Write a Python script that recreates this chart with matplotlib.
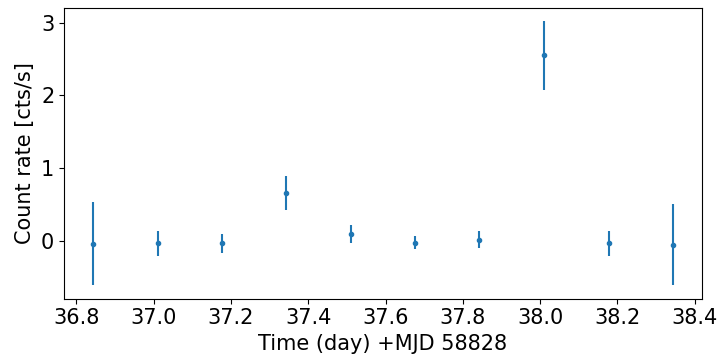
import matplotlib
matplotlib.use("Agg")
import matplotlib.pyplot as plt

time = [36.843, 37.010, 37.177, 37.343, 37.510, 37.677, 37.843, 38.010, 38.177, 38.343]
rate = [-0.04, -0.03, -0.03, 0.66, 0.10, -0.02, 0.02, 2.55, -0.03, -0.05]
rate_err = [0.57, 0.175, 0.13, 0.24, 0.125, 0.085, 0.115, 0.47, 0.175, 0.56]

fig = plt.figure(figsize=(7.2, 3.55), dpi=100)
ax = fig.add_axes([0.0889, 0.1586, 0.9746 - 0.0889, 0.9775 - 0.1586])
ax.errorbar(time, rate, yerr=rate_err, fmt='o', ms=3, lw=1.5, color='#1f77b4')
ax.set_xlabel('Time (day) +MJD 58828', fontsize=15)
ax.set_ylabel('Count rate [cts/s]', fontsize=15)
ax.tick_params(labelsize=15)
fig.savefig('out.png', dpi=100)
